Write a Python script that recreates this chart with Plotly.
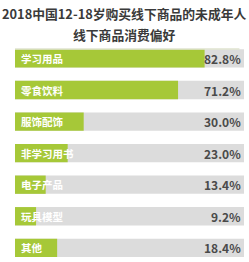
import plotly.graph_objects as go

categories = ["学习用品", "零食饮料", "服饰配饰", "非学习用书", "电子产品", "玩具模型", "其他"]
values = [82.8, 71.2, 30.0, 23.0, 13.4, 9.2, 18.4]
full = [100] * len(categories)
value_labels = [f"{v:.1f}%" for v in values]

title_lines = ["2018中国12-18岁购买线下商品的未成年人", "线下商品消费偏好"]

GREEN = "#a6c838"
GRAY = "#dcdcdc"
FONT = "Noto Sans CJK SC"

fig = go.Figure()
fig.add_trace(go.Bar(y=categories, x=full, orientation="h", marker=dict(color=GRAY, line=dict(width=0)),
                     width=0.58, hoverinfo="skip", showlegend=False))
fig.add_trace(go.Bar(y=categories, x=values, orientation="h", marker=dict(color=GREEN, line=dict(width=0)),
                     width=0.58, showlegend=False))

for c, lab in zip(categories, value_labels):
    fig.add_annotation(x=0, y=c, text=c, showarrow=False, xanchor="left", xshift=4,
                       font=dict(family=FONT, size=10.5, color="white", weight="bold"))
    fig.add_annotation(x=100, y=c, text=lab, showarrow=False, xanchor="right", xshift=-1,
                       font=dict(family=FONT, size=12, color="#4a4a4a", weight="bold"))

fig.add_annotation(xref="paper", yref="paper", x=0.478, y=1, yshift=36, text=title_lines[0],
                   showarrow=False, xanchor="center", yanchor="middle",
                   font=dict(family=FONT, size=12.8, color="#3a3a3a", weight="bold"))
fig.add_annotation(xref="paper", yref="paper", x=0.478, y=1, yshift=15, text=title_lines[1],
                   showarrow=False, xanchor="center", yanchor="middle",
                   font=dict(family=FONT, size=12.8, color="#3a3a3a", weight="bold"))

fig.add_shape(type="line", xref="paper", yref="paper", x0=0, x1=0.98, y0=1, y1=1,
              line=dict(color="#dfe3cf", width=1.5))

fig.update_layout(
    width=249, height=262,
    margin=dict(l=15, r=5, t=49, b=0),
    barmode="overlay",
    plot_bgcolor="white", paper_bgcolor="white",
    xaxis=dict(range=[0, 100], visible=False, fixedrange=True),
    yaxis=dict(range=[6.45, -0.3], visible=False, type="category", categoryorder="array",
               categoryarray=categories),
)

fig.write_html("out.html")
